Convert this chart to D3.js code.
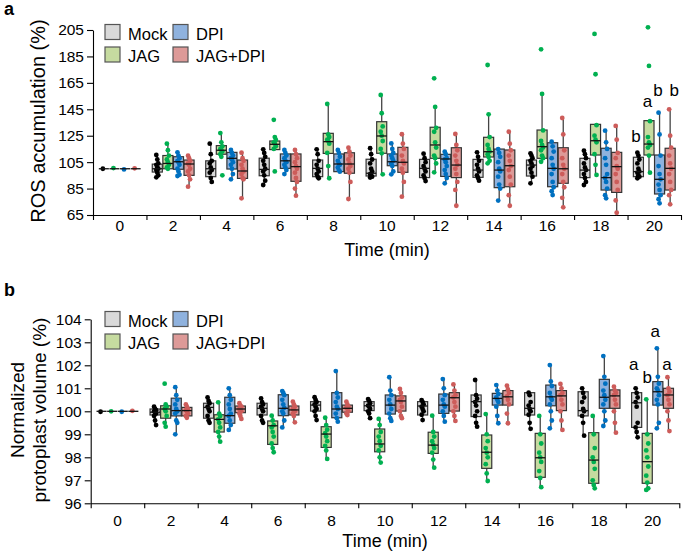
<!DOCTYPE html>
<html><head><meta charset="utf-8">
<script src="https://cdn.jsdelivr.net/npm/d3@7"></script>
<style>body{margin:0;background:#fff}svg{display:block;font-family:"Liberation Sans",Arial,sans-serif}</style>
</head><body><svg id="c" width="685" height="555"></svg>
<script>
const times = [0,2,4,6,8,10,12,14,16,18,20];
const groups = ["Mock","JAG","DPI","JAG+DPI"];
const fillColors = ["#d9d9d9","#c6dba0","#8fb2de","#dd9a98"];
const dotColors = ["#000000","#00b050","#0070c0","#cd5c5a"];
const rosTicks = [65,85,105,125,145,165,185,205];
const volTicks = [96,97,98,99,100,101,102,103,104];

// ---- Panel a: ROS accumulation (%) ; box = [low whisker, q1, median, q3, high whisker]
const rosMockBox = [[100,100,100,100,100],[93.5,97.5,100,103.5,110.5],[90,94,100,106,119],[87.7,94.7,99.5,108,114.7],[92.8,94,100.3,106.6,114.7],[93.3,94.5,96.6,107.2,115.5],[90.7,93.3,100.3,107.1,111.4],[91,93.5,99,107.1,112.4],[89,94.5,102.8,106.6,111.7],[87.7,93.3,99,107.9,113.7],[92.8,94,97.8,108.7,112.2]];
const rosMockPts = [[100],[110.5,107,104,103,101,100,99,97,95,93.5],[119,111,106,104,101,99,97,93,90],[114.7,112,109,106,103,100,98,95,91,87.7],[114.7,111,106,103,100,98,96,94,92.8],[115.5,111,107,104,100,98,96,95,94,93.3],[111.4,108,105,102,100,98,95,93,90.7],[112.4,109,106,103,100,98,95,93,91],[111.7,110,108,106,104,102,100,97,94,89],[113.7,111,108,104,101,99,96,93,90,87.7],[112.2,110,107,104,100,98,97,95,94,92.8]];
const rosJagBox = [[100,100,100,100,100],[100,100,104,110,119],[109,111,114,117.5,127],[114,114.5,118.5,121,124],[92.8,111.6,120.5,126.8,149],[95.8,111.7,124.8,135.6,155.8],[97.3,107.9,118,131.4,146.8],[104.1,108.9,112.9,123.8,141.2],[105.3,107.9,116.7,129.3,156.6],[95.3,110.4,121.2,133.6,133.6],[97,110.4,118.7,136.4,136.4]];
const rosJagPts = [[100.5],[119,114,110,107,105,103,101,100],[127,120,117,115,114,113,111,109,95],[137,124,122,120,119,117,115,98],[149,126,124,122,121,119,112,102,92.8],[155.8,142,132,128,125,121,115,111.7,95.8],[168.4,146.8,131,128,120,116,110,108,104,97.3],[178.5,141.2,124,118,115,113,111,108.9,106,104.1],[190.4,156.6,129,121,118,116,114,110,108,105.3],[202,171.5,133,125,122,120,111,103,95.3],[207,177.8,136,124,120,118,116,110,97]];
const rosDpiBox = [[100,100,100,100,100],[94.5,99.6,105.3,109.1,112.4],[92,99.8,107.9,112.4,114.2],[96,100.3,106,111.2,114.2],[97.8,97.8,103.6,111.2,114.2],[95.8,102.3,105.3,111.2,119.2],[89,94.2,107.4,110.9,112.9],[75.9,85.7,99,114.9,114.9],[80.1,86.4,100.3,119.7,120.5],[77.6,83.9,93.3,115.5,128.8],[73.8,80.9,92,110.4,142.4]];
const rosDpiPts = [[99.5],[112.4,110,108,106,105,103,100,98,95.5,94.5],[114.2,112,110,108,107,105,103,100,96,92],[114.2,112,110,108,106,105,103,101,99,96],[114.2,112,109,106,104,103,101,99,97.8],[119.2,115,112,110,108,106,104,102,98,95.8],[112.9,111,108,107,105,102,99,96,93,89],[114.9,112,109,105,100,98,94,88,85,75.9],[120.5,117,113,108,103,100,96,90,86,83,80.1],[128.8,120,115,108,103,96,93,90,85,80,77.6],[142.4,126,110,102,96,92,88,84,80,77,73.8]];
const rosJdBox = [[100,100,100,100,100],[86.4,95,103.6,106.6,109.9],[77.6,92.7,98.3,106.6,112.1],[79.6,90.5,101.6,111.2,114.2],[77.1,96.6,103.6,112.1,115.9],[78.9,97.3,104.9,116.2,126.1],[72,93.3,102.8,115.9,126.3],[72,86.4,102.3,114.2,128],[70.8,89,100,115.9,138.4],[66.7,82.1,101.6,112.4,132.4],[73.1,83.9,100.3,115.5,145]];
const rosJdPts = [[100.3],[109.9,108,106,104,103,100,98,95,92,86.4],[112.1,108,106,103,100,98,96,93,92,77.6],[114.2,111,108,105,102,100,97,93,90,85,79.6],[115.9,113,110,107,104,102,100,97,90,77.1],[126.1,119,115,110,106,104,100,97,90,78.9],[126.3,118,114,110,106,103,100,96,90,84,72],[128,119,114,110,106,102,99,94,88,80,72],[138.4,126,114,108,103,100,96,90,86,78,70.8],[132.4,122,112,108,102,100,96,90,84,76,66.7],[145,125,116,110,104,100,96,90,84,80,73.1]];
const rosLetters = ["b","a","b","b"];
const rosLetterY = [120.5,146.5,155,155];

// ---- Panel b: Normalized protoplast volume (%)
const volMockBox = [[100,100,100,100,100],[99.4,99.84,99.96,100.1,100.2],[99.5,99.7,100.17,100.35,100.6],[99.5,99.84,100.13,100.35,100.56],[99.62,100.01,100.27,100.42,100.61],[99.7,100.03,100.24,100.42,100.53],[99.62,99.84,100.23,100.42,100.49],[99.33,99.77,100.42,100.71,101.36],[99.24,99.84,100.13,100.81,100.81],[98.94,99.8,100.03,100.85,101],[98.87,99.3,100.37,100.81,101]];
const volMockPts = [[99.98],[100.2,100.1,100.05,100,99.95,99.9,99.8,99.6,99.4],[100.6,100.45,100.35,100.2,100.1,100,99.8,99.6,99.5],[100.56,100.4,100.3,100.2,100.1,100,99.8,99.6,99.5],[100.61,100.5,100.4,100.3,100.2,100.1,100,99.8,99.62],[100.53,100.45,100.35,100.25,100.2,100.1,100,99.9,99.7],[100.49,100.4,100.3,100.2,100.1,100,99.85,99.62],[101.36,100.7,100.55,100.4,100.25,100,99.8,99.5,99.33],[100.81,100.7,100.4,100.25,100.1,100,99.85,99.5,99.24],[101,100.8,100.6,100.4,100.1,100,99.8,99.5,98.94],[101,100.8,100.6,100.4,100.2,99.5,99.3,99.1,98.87]];
const volJagBox = [[100,100,100,100,100],[99.33,99.7,100.1,100.24,100.3],[98.68,99.1,99.65,99.85,100.39],[98.22,98.56,99.37,99.58,99.81],[97.93,98.43,99.01,99.33,99.72],[97.77,98.24,98.58,99.23,99.67],[97.55,98.17,98.53,99.09,99.81],[96.97,97.52,98.22,98.97,99.88],[96.7,97.13,97.98,99.04,99.8],[96.65,96.87,97.88,99.07,99.8],[96.58,96.87,97.81,99.04,100.52]];
const volJagPts = [[100],[101.2,100.3,100.2,100.1,100,99.8,99.5,99.33],[100.39,99.9,99.8,99.65,99.5,99.3,99.1,98.9,98.68],[99.81,99.6,99.4,99.3,99.1,98.9,98.6,98.4,98.22],[99.72,99.4,99.2,99.05,98.9,98.7,98.5,98.3,97.93],[99.67,99.4,99.1,98.9,98.7,98.5,98.3,98,97.77],[99.81,99.1,98.9,98.7,98.55,98.4,98.2,97.9,97.55],[99.88,99,98.7,98.4,98.2,98,97.7,97.3,96.97],[99.8,99,98.6,98.2,98,97.8,97.4,97.1,96.7],[99.8,99,98.4,98,97.8,97.5,97,96.8,96.65],[100.52,99,98.6,98.3,98,97.6,97.2,96.9,96.65,96.58]];
const volDpiBox = [[100,100,100,100,100],[99,99.8,100.03,100.57,101.05],[99.19,99.48,99.81,100.61,101],[99.3,99.81,100.13,100.72,100.88],[99.55,99.72,100.1,100.81,101.75],[99.58,99.88,100.27,100.71,101.48],[99.55,99.91,100.27,100.75,101.4],[99.48,100.27,100.56,100.78,101.14],[99.26,100.24,100.63,101.14,102.01],[99.36,100.13,100.61,101.39,102.4],[99.26,100.27,100.85,101.29,102.74]];
const volDpiPts = [[99.98],[101.05,100.7,100.5,100.3,100.1,100,99.9,99.6,99.5,99],[101,100.7,100.5,100.3,100.1,99.9,99.8,99.6,99.4,99.19],[100.88,100.8,100.7,100.5,100.3,100.15,100,99.9,99.6,99.3],[101.75,100.8,100.6,100.4,100.2,100.1,99.9,99.7,99.55],[101.48,100.9,100.7,100.5,100.3,100.1,99.9,99.7,99.58],[101.4,101,100.7,100.5,100.3,100.2,100,99.8,99.55],[101.14,100.9,100.75,100.6,100.5,100.4,100.2,99.8,99.48],[102.01,101.3,101.1,100.8,100.6,100.5,100.3,100,99.6,99.26],[102.4,101.5,101.2,100.9,100.7,100.5,100.3,100,99.6,99.36],[102.74,101.5,101.2,101,100.9,100.7,100.5,100.3,99.5,99.26]];
const volJdBox = [[100,100,100,100,100],[99.72,99.8,100.03,100.17,100.3],[99.67,99.94,100.1,100.23,100.35],[99.52,99.84,100.06,100.23,100.42],[99.84,99.96,100.13,100.27,100.42],[99.7,100.01,100.45,100.67,100.97],[99.58,100.01,100.59,100.81,101.17],[99.48,100.27,100.63,100.9,101.11],[99.19,100.03,100.67,100.9,101.19],[99.07,100.13,100.67,100.93,101.07],[99.14,100.13,100.71,101,101.48]];
const volJdPts = [[100.02],[100.3,100.2,100.1,100.05,100,99.9,99.8,99.72],[100.35,100.25,100.2,100.1,100.05,100,99.9,99.8,99.67],[100.42,100.3,100.2,100.1,100.05,100,99.9,99.8,99.52],[100.42,100.3,100.2,100.15,100.1,100,99.9,99.84],[100.97,100.8,100.6,100.5,100.4,100.2,100,99.8,99.7],[101.17,100.9,100.7,100.6,100.4,100.2,100,99.8,99.58],[101.11,100.95,100.8,100.65,100.5,100.3,99.9,99.48],[101.19,101,100.8,100.7,100.5,100.3,100,99.6,99.19],[101.07,100.9,100.8,100.7,100.5,100.3,100,99.5,99.07],[101.48,101,100.85,100.7,100.5,100.3,100,99.6,99.14]];
const volLetters = ["a","b","a","a"];
const volLetterY = [101.8,101.22,103.22,101.8];

const svg = d3.select("#c");
const FONT = '"Liberation Sans",Arial,sans-serif';

function panel(cfg){
  const g = svg.append("g");
  const x = d3.scaleBand().domain(times).range([cfg.x0,cfg.x1]).paddingInner(0).paddingOuter(0);
  const sub = d3.scaleBand().domain(groups).range([0,x.bandwidth()]).paddingInner(0.05).paddingOuter(0.55);
  const y = d3.scaleLinear().domain(cfg.yDomain).range([cfg.yBottom,cfg.yTop]);
  const xb = d3.scaleLinear().domain([0,times.length]).range([cfg.x0,cfg.x1]);
  const bw = sub.bandwidth();

  const ya = g.append("g").attr("transform",`translate(${cfg.x0},0)`)
    .call(d3.axisLeft(y).tickValues(cfg.ticks).tickSize(6).tickSizeOuter(0).tickPadding(3));
  ya.selectAll("text").attr("font-size",15.5).attr("font-family",FONT).attr("fill","#000");
  ya.selectAll("line,path").attr("stroke","#000").attr("stroke-width",1.1);
  const xa = g.append("g").attr("transform",`translate(0,${cfg.yBottom})`)
    .call(d3.axisBottom(xb).tickValues(d3.range(times.length+1)).tickFormat("").tickSize(5).tickSizeOuter(0));
  xa.selectAll("line,path").attr("stroke","#000").attr("stroke-width",1.1);
  const xl = g.append("g").attr("transform",`translate(0,${cfg.yBottom})`)
    .call(d3.axisBottom(x).tickSize(0).tickPadding(cfg.xPad));
  xl.select(".domain").remove();
  xl.selectAll("text").attr("font-size",15.5).attr("font-family",FONT).attr("fill","#000");

  const boxes = cfg.boxes, pts = cfg.pts;
  groups.forEach((grp,gi)=>{
    times.forEach((t,ti)=>{
      const cx = x(t) + sub(grp) + bw/2;
      const b = boxes[gi][ti];
      if (b[4] > b[0]) {
        g.append("line").attr("x1",cx).attr("x2",cx).attr("y1",y(b[0])).attr("y2",y(b[4]))
          .attr("stroke","#444").attr("stroke-width",1.3);
      }
      g.append("rect").attr("x",cx-bw/2).attr("width",bw)
        .attr("y",y(b[3])).attr("height",Math.max(0,y(b[1])-y(b[3])))
        .attr("fill",fillColors[gi]).attr("stroke","#333").attr("stroke-width",1.2);
      g.selectAll(null).data(pts[gi][ti]).enter().append("circle")
        .attr("cx",(d,i)=>cx + ((i%3)-1)*1.0)
        .attr("cy",d=>y(d)).attr("r",2.4).attr("fill",dotColors[gi]);
      g.append("line").attr("x1",cx-bw/2).attr("x2",cx+bw/2).attr("y1",y(b[2])).attr("y2",y(b[2]))
        .attr("stroke","#111").attr("stroke-width",1.3);
    });
    const lt = times[times.length-1];
    g.append("text").attr("x",x(lt)+sub(grp)+bw/2+cfg.letterDx[gi]).attr("y",y(cfg.letterY[gi]))
      .attr("text-anchor","middle").attr("font-size",17).attr("font-family",FONT).text(cfg.letters[gi]);
  });

  const lg = g.append("g");
  groups.forEach((grp,gi)=>{
    const col = gi===0||gi===1 ? 0 : 1;
    const row = gi===0||gi===2 ? 0 : 1;
    const lx = cfg.legX + col*68, ly = cfg.legY + row*22.5;
    lg.append("rect").attr("x",lx).attr("y",ly).attr("width",15).attr("height",15)
      .attr("fill",fillColors[gi]).attr("stroke","#555").attr("stroke-width",1.2);
    lg.append("text").attr("x",lx+23).attr("y",ly+15).attr("font-size",16.5).attr("font-family",FONT).text(grp);
  });

  g.append("text").attr("x",(cfg.x0+cfg.x1)/2).attr("y",cfg.xTitleY).attr("text-anchor","middle")
    .attr("font-size",18).attr("font-family",FONT).text("Time (min)");
  cfg.yTitle.forEach((s,i)=>{
    g.append("text").attr("transform",`translate(${cfg.yTitleX[i]},${cfg.yTitleCY}) rotate(-90)`)
      .attr("text-anchor","middle").attr("font-size",cfg.yTitleSize).attr("font-family",FONT).text(s);
  });
  g.append("text").attr("x",4).attr("y",cfg.labelY).attr("font-size",18).attr("font-weight","bold")
    .attr("font-family",FONT).text(cfg.label);
}

panel({x0:93,x1:681,yBottom:215,yTop:30,yDomain:[65,205],ticks:rosTicks,xPad:5,
  boxes:[rosMockBox,rosJagBox,rosDpiBox,rosJdBox],pts:[rosMockPts,rosJagPts,rosDpiPts,rosJdPts],
  letters:rosLetters,letterY:rosLetterY,letterDx:[-2.5,-1.5,-1.5,4],legX:105,legY:24.5,xTitleY:256,
  yTitle:["ROS accumulation (%)"],yTitleX:[45],yTitleCY:121,yTitleSize:20,label:"a",labelY:15});

panel({x0:90.7,x1:679.3,yBottom:503.3,yTop:319.3,yDomain:[96,104],ticks:volTicks,xPad:12,
  boxes:[volMockBox,volJagBox,volDpiBox,volJdBox],pts:[volMockPts,volJagPts,volDpiPts,volJdPts],
  letters:volLetters,letterY:volLetterY,letterDx:[-3,0,-2.5,-1.5],legX:105,legY:311.5,xTitleY:547,
  yTitle:["Normalized","protoplast volume (%)"],yTitleX:[24,46],yTitleCY:410,yTitleSize:19,label:"b",labelY:296});
</script></body></html>
